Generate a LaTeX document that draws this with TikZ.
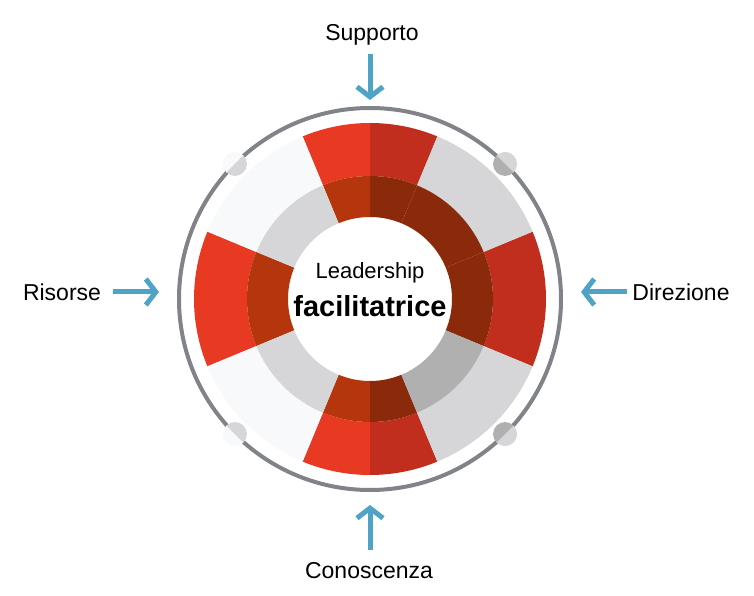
\documentclass[tikz,border=0pt]{standalone}
\usepackage{fontspec}
\setmainfont{Liberation Sans}
\usepackage{tikz}
\usetikzlibrary{positioning,arrows.meta}
\definecolor{colorred}   {RGB}{232,58 ,34 }
\definecolor{colorredd}  {RGB}{194,46 ,30 }
\definecolor{colorbrown} {RGB}{181,53 ,12 }
\definecolor{colorbrownd}{RGB}{139,42 ,10 }
\definecolor{colorwhite} {RGB}{248,249,251}
\definecolor{colorgray}  {RGB}{214,214,216}
\definecolor{colorgrayd} {RGB}{176,176,176}
\definecolor{colorring}  {RGB}{128,131,136}
\definecolor{colorarrow} {RGB}{79 ,163,199}
\newcommand{\sector}[5]{\fill[#5] (#1:#3) arc (#1:#2:#3) -- (#2:#4) arc (#2:#1:#4) -- cycle;}

\begin{document}
\begin{tikzpicture}[
    x=1pt, y=1pt,
    txt/.style={font={\fontsize{23}{26}\selectfont}},
    flow/.style={colorarrow,line width=5pt,-{Straight Barb[length=10pt,width=26pt,line width=5pt]}},
]
    \useasboundingbox (-370,299) rectangle (384,-297);

    % Ring
    \draw[colorring,line width=4pt] (0,0) circle (191);

    % Outer sectors
    \sector{67.5}{90}{176}{123}{colorredd}
    \sector{90}{112.5}{176}{123}{colorred}
    \sector{157.5}{202.5}{176}{123}{colorred}
    \sector{247.5}{270}{176}{123}{colorred}
    \sector{270}{292.5}{176}{123}{colorredd}
    \sector{-22.5}{22.5}{176}{123}{colorredd}
    \sector{22.5}{67.5}{176}{123}{colorgray}
    \sector{112.5}{157.5}{176}{123}{colorwhite}
    \sector{202.5}{247.5}{176}{123}{colorwhite}
    \sector{292.5}{337.5}{176}{123}{colorgray}

    % Inner sectors
    \sector{67.5}{90}{123}{82}{colorbrownd}
    \sector{90}{112.5}{123}{82}{colorbrown}
    \sector{157.5}{202.5}{123}{82}{colorbrown}
    \sector{247.5}{270}{123}{82}{colorbrown}
    \sector{270}{292.5}{123}{82}{colorbrownd}
    \sector{-22.5}{22.5}{123}{82}{colorbrownd}
    \sector{22.5}{67.5}{123}{82}{colorbrownd}
    \sector{112.5}{157.5}{123}{82}{colorgray}
    \sector{202.5}{247.5}{123}{82}{colorgray}
    \sector{292.5}{337.5}{123}{82}{colorgrayd}

    % Handles
    \foreach \a/\ca/\cb in {45/colorgrayd/colorgray,135/colorgray/colorwhite,
                            225/colorgray/colorwhite,315/colorgrayd/colorgray}{
        \fill[\ca] (\a:191) ++(\a+90:12) arc (\a+90:\a+270:12) -- cycle;
        \fill[\cb] (\a:191) ++(\a-90:12) arc (\a-90:\a+90:12) -- cycle;
    }

    % Centre
    \node[font={\fontsize{22}{24}\selectfont}] (lead) at (0,26) {Leadership};
    \node[font={\fontsize{29}{32}\selectfont\bfseries}] (facil) at (0,-7) {facilitatrice};

    % Inputs
    \node[txt] (supp) at (2,264) {Supporto};
    \node[txt] (cono) at (-1,-272) {Conoscenza};
    \node[txt] (riso) at (-308,7) {Risorse};
    \node[txt] (dire) at (311,7) {Direzione};
    \coordinate (ts) at (0,245);  \coordinate (te) at (0,199);
    \coordinate (bs) at (0,-251); \coordinate (be) at (0,-206);
    \coordinate (ls) at (-257,7); \coordinate (le) at (-211,7);
    \coordinate (rs) at (257,7);  \coordinate (re) at (211,7);
    \draw[flow] (ts) -- (te);
    \draw[flow] (bs) -- (be);
    \draw[flow] (ls) -- (le);
    \draw[flow] (rs) -- (re);

\end{tikzpicture}
\end{document}
